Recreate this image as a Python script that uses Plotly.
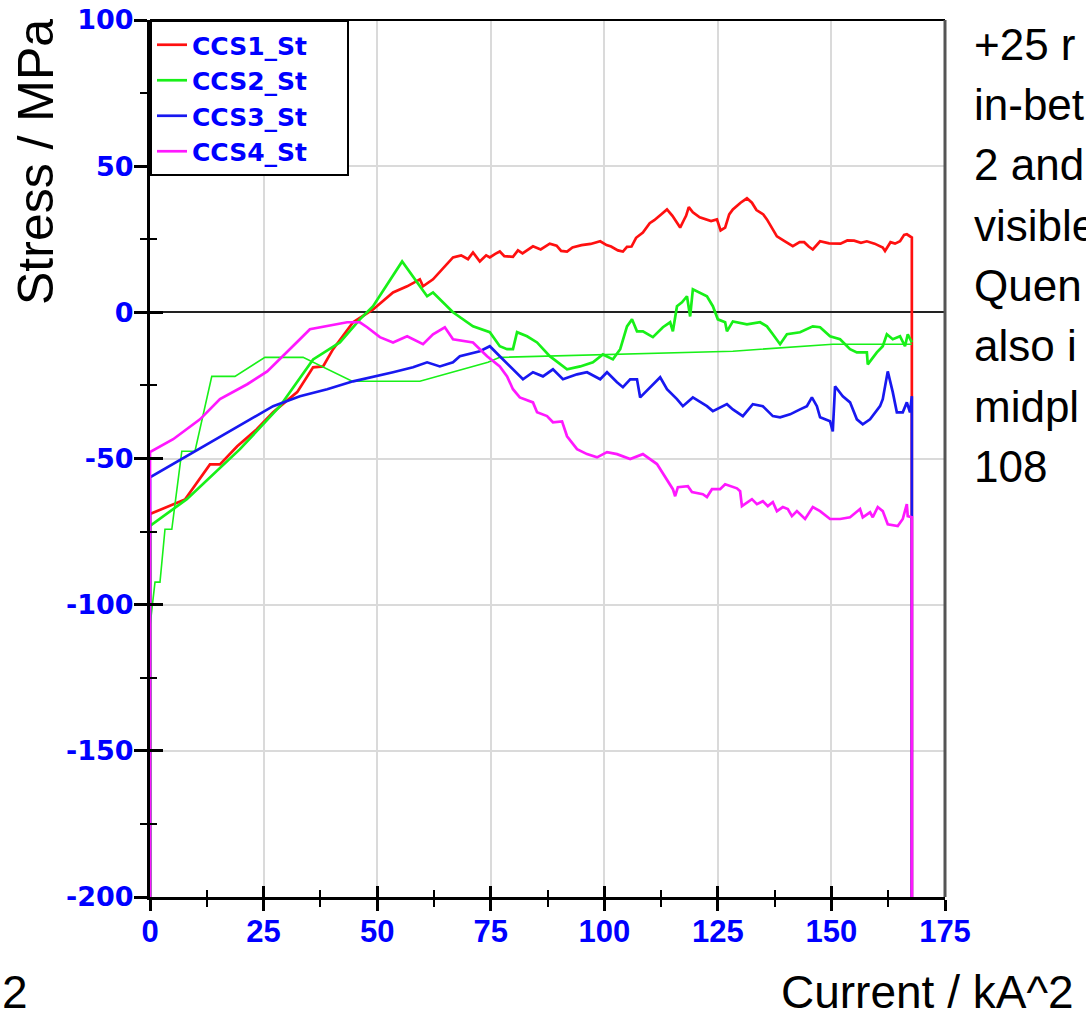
import plotly.graph_objects as go

# ---------------- data ----------------
ccs1_x = [0, 0, 7.7, 13.2, 15.4, 19.2, 23.5, 27.1, 32.4, 35.9, 38.1, 40.3, 44.7, 49.1, 53.5, 56.6,
          59.4, 60.1, 62.3, 66.7, 68.5, 70.0, 71.1, 72.6, 74.0, 74.8, 76.0, 77.0, 78.0, 79.9, 81.0,
          82.0, 84.3, 86.0, 88.0, 89.5, 90.5, 91.8, 93.0, 95.0, 97.0, 99.1, 100.5, 101.5, 103.0,
          104.1, 105.0, 106.0, 107.0, 108.5, 110.0, 111.0, 112.5, 113.8, 115.0, 116.7, 117.5,
          118.0, 118.6, 119.5, 121.0, 122.0, 123.5, 124.8, 125.6, 126.6, 127.5, 128.3, 130.0,
          131.4, 132.5, 133.5, 135.0, 135.8, 137.0, 138.0, 139.5, 141.5, 143.0, 144.0, 145.0,
          145.9, 147.5, 149.5, 152.0, 153.5, 155.0, 156.5, 157.8, 159.5, 161.3, 161.8, 163.0,
          164.0, 165.1, 166.0, 166.6, 167.3, 167.7, 167.7]
ccs1_y = [-200, -69.0, -64.0, -52.0, -52.0, -45.8, -40.0, -34.2, -27.3, -18.8, -18.5, -12.6, -3.4,
          1.0, 6.8, 8.9, 11.3, 8.9, 11.3, 18.8, 19.5, 18.2, 20.5, 17.4, 19.5, 18.8, 20.0, 20.8,
          19.2, 19.0, 21.2, 20.2, 22.6, 21.5, 23.5, 22.8, 21.0, 20.8, 22.2, 23.0, 23.4, 24.3, 23.0,
          22.5, 21.2, 20.8, 22.4, 22.5, 25.5, 27.3, 30.5, 31.5, 33.5, 35.2, 33.0, 29.0, 31.5, 33.0,
          36.0, 34.2, 32.5, 32.0, 31.2, 31.8, 28.0, 29.0, 33.5, 35.2, 37.5, 39.0, 37.5, 35.0, 33.5,
          31.8, 28.5, 26.0, 24.5, 22.6, 24.0, 24.0, 22.5, 21.5, 24.3, 23.6, 23.5, 24.6, 24.5, 23.8,
          24.3, 23.5, 22.2, 21.0, 24.0, 23.5, 24.3, 26.5, 26.7, 25.8, 25.6, -200]

# CCS2 ramp-up branch
ccs2_x = [0, 0, 8.1, 19.8, 28.6, 35.9, 41.8, 46.2, 49.1, 55.5, 61.0, 62.3, 66.7, 71.1, 74.8, 77.0,
          78.6, 79.9, 80.8, 83.0, 85.2, 88.0, 91.8, 94.7, 97.5, 99.7, 101.9, 103.5, 105.0, 106.1,
          107.2, 108.5, 110.7, 112.9, 114.5, 115.1, 116.0, 117.1, 118.2, 118.9, 119.5, 121.1,
          122.6, 123.9, 125.0, 126.6, 127.0, 128.3, 131.4, 134.3, 135.8, 137.1, 138.7, 140.2,
          143.1, 145.9, 147.5, 149.7, 151.9, 154.1, 155.6, 157.8, 158.0, 160.0, 161.3, 162.2,
          163.5, 165.1, 166.2, 166.8, 167.7]
ccs2_y = [-200, -73.1, -63.9, -46.8, -32.1, -16.1, -10.3, -2.4, 2.1, 17.4, 5.5, 6.8, 0.0, -4.8,
          -6.8, -11.6, -12.6, -12.6, -6.8, -8.2, -10.3, -15.0, -19.5, -18.5, -17.1, -14.4, -16.1,
          -12.6, -4.8, -2.4, -6.5, -6.5, -8.5, -5.1, -3.4, -6.5, 2.1, 3.4, 5.5, -1.4, 7.9, 6.8, 5.5,
          2.1, -2.4, -3.4, -6.5, -3.1, -4.1, -3.4, -4.8, -7.5, -10.9, -7.5, -6.8, -4.8, -5.1, -8.2,
          -9.2, -12.6, -13.7, -13.7, -17.8, -13.7, -11.6, -7.5, -9.2, -8.2, -11.6, -7.5, -10.3]
# CCS2 ramp-down branch (sparse, stepped)
ccs2r_x = [167.7, 150.3, 128.3, 99.1, 77.0, 74.4, 59.4, 44.5, 33.7, 25.3, 18.7, 13.6, 9.9, 7.0,
           4.8, 3.3, 2.2, 1.1, 0]
ccs2r_y = [-10.9, -10.9, -13.3, -14.4, -15.4, -17.1, -23.6, -23.6, -15.4, -15.4, -21.9, -21.9,
           -47.5, -47.5, -74.2, -74.2, -92.3, -92.3, -107.3]

ccs3_x = [0, 0, 27.1, 33.0, 39.0, 44.7, 53.5, 57.9, 61.0, 63.8, 66.7, 68.2, 72.6, 74.8, 77.0, 79.9,
          82.1, 84.3, 86.5, 88.7, 90.9, 94.0, 96.2, 99.1, 100.6, 102.8, 104.1, 105.7, 107.2, 107.9,
          110.1, 112.3, 113.8, 116.0, 117.3, 119.5, 122.6, 123.9, 127.0, 128.3, 130.5, 132.7,
          134.9, 137.1, 138.7, 140.9, 143.1, 144.6, 145.7, 146.8, 147.5, 149.7, 150.3, 150.8,
          152.5, 154.1, 155.6, 156.9, 158.5, 160.7, 161.3, 162.4, 163.5, 164.4, 165.7, 166.6,
          167.3, 167.7, 167.7]
ccs3_y = [-200, -56.4, -32.1, -28.7, -26.3, -23.6, -20.5, -18.8, -17.1, -18.5, -17.1, -15.0, -13.3,
          -11.6, -15.0, -19.5, -22.9, -20.5, -21.9, -19.5, -22.9, -21.2, -20.5, -22.9, -20.5,
          -23.9, -25.6, -22.9, -22.9, -29.1, -25.6, -22.2, -26.3, -29.7, -32.1, -29.1, -32.1,
          -33.8, -31.4, -33.2, -35.5, -31.4, -32.1, -35.5, -35.9, -34.9, -33.2, -32.1, -29.1,
          -32.1, -35.9, -37.3, -40.7, -25.3, -28.7, -30.8, -36.6, -38.3, -36.6, -32.1, -29.7,
          -20.2, -27.3, -34.2, -34.2, -30.8, -34.2, -28.7, -200]

ccs4_x = [0, 0, 5.1, 11.0, 15.4, 21.4, 25.8, 29.3, 33.0, 35.2, 39.0, 43.4, 46.2, 47.8, 50.6, 53.5,
          56.6, 60.1, 62.3, 64.9, 66.7, 71.1, 74.2, 77.0, 78.6, 79.9, 81.4, 84.3, 85.2, 87.4, 88.7,
          90.7, 91.8, 94.0, 96.2, 98.4, 100.6, 102.8, 105.7, 108.5, 111.6, 113.8, 115.1, 115.6,
          116.2, 118.4, 119.3, 121.7, 122.6, 123.7, 125.5, 126.6, 129.2, 129.9, 130.3, 132.5,
          133.6, 134.9, 136.0, 137.1, 138.0, 139.3, 140.4, 141.3, 142.4, 144.2, 145.9, 147.5,
          149.7, 151.9, 154.1, 156.3, 156.9, 158.5, 159.1, 160.2, 161.3, 162.4, 164.6, 165.7,
          166.6, 166.8, 167.7, 167.7]
ccs4_y = [-200, -47.8, -43.4, -36.6, -29.7, -24.6, -20.2, -15.0, -9.2, -5.8, -4.8, -3.4, -3.4, -5.1,
          -8.5, -10.3, -8.2, -10.9, -7.5, -5.1, -9.2, -10.3, -15.0, -18.5, -21.9, -26.3, -29.1,
          -30.8, -34.2, -35.5, -37.6, -37.3, -42.4, -46.8, -48.5, -49.6, -47.8, -48.5, -50.2,
          -48.5, -51.9, -57.1, -60.5, -62.9, -59.8, -59.5, -61.5, -62.2, -63.2, -60.5, -60.5,
          -58.8, -60.2, -61.2, -66.3, -63.9, -65.6, -64.6, -66.3, -64.9, -68.0, -66.6, -67.3,
          -69.7, -68.0, -70.7, -66.6, -68.0, -70.7, -70.7, -70.1, -67.3, -70.1, -68.4, -70.1,
          -66.6, -68.0, -72.5, -73.1, -70.7, -65.6, -69.7, -70.1, -200]

series_names = ["CCS1_St", "CCS2_St", "CCS3_St", "CCS4_St"]
x_ticks = [0, 25, 50, 75, 100, 125, 150, 175]
y_ticks = [100, 50, 0, -50, -100, -150, -200]
side_text = ["+25 r", "in-bet", "2 and", "visible", "Quen", "also i", "midpl", "108"]

# ---------------- styling ----------------
W, H = 1086, 1020
L, R, T, B = 150, 141, 20, 123
PW, PH = W - L - R, H - T - B
def px(xp):
    return (xp - L) / PW
def py(yp):
    return (H - B - yp) / PH

colors = ["#ff1010", "#18f018", "#1818f0", "#ff18ff"]
LW = 2.7
PAD = "\u00a0\u00a0\u00a0\u00a0"

fig = go.Figure()
fig.add_trace(go.Scatter(x=ccs1_x, y=ccs1_y, mode="lines", name=series_names[0] + PAD,
                         legendgroup="g1", line=dict(color=colors[0], width=LW)))
fig.add_trace(go.Scatter(x=ccs2_x, y=ccs2_y, mode="lines", name=series_names[1] + PAD,
                         legendgroup="g2", line=dict(color=colors[1], width=LW)))
fig.add_trace(go.Scatter(x=ccs2r_x, y=ccs2r_y, mode="lines", name=series_names[1], legendgroup="g2",
                         showlegend=False, line=dict(color=colors[1], width=1.6)))
fig.add_trace(go.Scatter(x=ccs3_x, y=ccs3_y, mode="lines", name=series_names[2] + PAD,
                         legendgroup="g3", line=dict(color=colors[2], width=LW)))
fig.add_trace(go.Scatter(x=ccs4_x, y=ccs4_y, mode="lines", name=series_names[3] + PAD,
                         legendgroup="g4", line=dict(color=colors[3], width=LW)))
# invisible helper trace so the overlay axes (inner halves of the crossing ticks) render
fig.add_trace(go.Scatter(x=[0], y=[-200], xaxis="x2", yaxis="y2", mode="markers",
                         marker=dict(opacity=0), showlegend=False, hoverinfo="skip"))

tick_font_x = dict(family="Liberation Sans, Arial, sans-serif", size=31, color="#0000ff", weight="bold")
tick_font_y = dict(family="DejaVu Sans, sans-serif", size=27, color="#0000ff", weight="bold")

fig.update_layout(
    width=W, height=H, autosize=False,
    margin=dict(l=L, r=R, t=T, b=B, pad=0),
    paper_bgcolor="white", plot_bgcolor="white",
    showlegend=True,
    legend=dict(x=0, y=1, xanchor="left", yanchor="top", bgcolor="white",
                bordercolor="black", borderwidth=2, itemwidth=30, tracegroupgap=0,
                traceorder="grouped",
                font=dict(family="DejaVu Sans, sans-serif", size=25, color="#0000ff",
                          weight="bold")),
    xaxis=dict(range=[0, 175], tickvals=x_ticks, ticktext=[str(v) for v in x_ticks],
               ticks="outside", ticklen=11, tickwidth=3, tickcolor="black",
               minor=dict(dtick=12.5, tick0=0, ticks="outside", ticklen=7, tickwidth=2,
                          tickcolor="black", showgrid=False),
               showline=True, linecolor="black", linewidth=3,
               showgrid=True, gridcolor="#dadada", gridwidth=1.5,
               zeroline=False, tickfont=tick_font_x, layer="below traces", fixedrange=True,
               automargin=False, ticklabelstandoff=-6),
    yaxis=dict(range=[-200, 100], tickvals=y_ticks, ticktext=[str(v) for v in y_ticks],
               ticks="outside", ticklen=13, tickwidth=3, tickcolor="black",
               minor=dict(dtick=25, tick0=0, ticks="outside", ticklen=7, tickwidth=2,
                          tickcolor="black", showgrid=False),
               showline=True, linecolor="black", linewidth=3,
               showgrid=True, gridcolor="#dadada", gridwidth=1.5,
               zeroline=True, zerolinecolor="#222222", zerolinewidth=1.5,
               tickfont=tick_font_y, layer="below traces", fixedrange=True,
               automargin=False, ticklabelstandoff=-5),
    xaxis2=dict(overlaying="x", anchor="y", side="bottom", range=[0, 175], tickvals=x_ticks,
                ticks="inside", ticklen=11, tickwidth=3, tickcolor="black",
                minor=dict(dtick=12.5, tick0=0, ticks="inside", ticklen=7, tickwidth=2,
                           tickcolor="black", showgrid=False),
                showticklabels=False, showline=False, showgrid=False, zeroline=False,
                fixedrange=True, automargin=False),
    yaxis2=dict(overlaying="y", anchor="x", side="left", range=[-200, 100], tickvals=y_ticks,
                ticks="inside", ticklen=13, tickwidth=3, tickcolor="black",
                minor=dict(dtick=25, tick0=0, ticks="inside", ticklen=7, tickwidth=2,
                           tickcolor="black", showgrid=False),
                showticklabels=False, showline=False, showgrid=False, zeroline=False,
                fixedrange=True, automargin=False),
)

# frame: top and right borders
fig.add_shape(type="line", xref="paper", yref="paper", x0=0, x1=1, y0=1, y1=1,
              line=dict(color="black", width=2))
fig.add_shape(type="line", xref="paper", yref="paper", x0=1, x1=1, y0=0, y1=1,
              line=dict(color="#555555", width=3))

title_font = dict(family="Liberation Sans, Arial, sans-serif", size=46, color="black")
side_font = dict(family="Liberation Sans, Arial, sans-serif", size=44, color="black")

fig.add_annotation(text="Stress / MPa", xref="paper", yref="paper", x=px(36), y=py(162),
                   xanchor="center", yanchor="middle", textangle=-90, showarrow=False,
                   font=dict(family="Liberation Sans, Arial, sans-serif", size=50, color="black"))
fig.add_annotation(text="Current / kA^2", xref="paper", yref="paper", x=px(1076), y=py(992),
                   xanchor="right", yanchor="middle", showarrow=False, font=title_font)
fig.add_annotation(text="2", xref="paper", yref="paper", x=px(0), y=py(992),
                   xanchor="left", yanchor="middle", showarrow=False, font=title_font)

for i, line_txt in enumerate(side_text):
    fig.add_annotation(text=line_txt, xref="paper", yref="paper", x=px(972), y=py(44 + i * 60.4),
                       xanchor="left", yanchor="middle", showarrow=False, font=side_font)

fig.write_html("out.html")
